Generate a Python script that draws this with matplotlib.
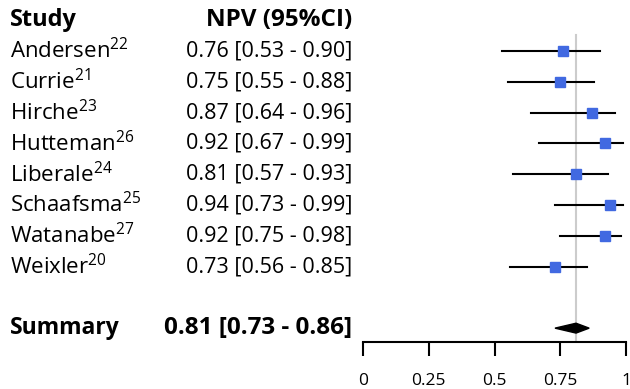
import matplotlib.pyplot as plt
from matplotlib.patches import Polygon
from matplotlib.transforms import blended_transform_factory

plt.rcParams['font.family'] = ['Open Sans', 'DejaVu Sans']

# study data
studies = ["Andersen", "Currie", "Hirche", "Hutteman", "Liberale",
           "Schaafsma", "Watanabe", "Weixler"]
refs = ["22", "21", "23", "26", "24", "25", "27", "20"]
npv = [0.76, 0.75, 0.87, 0.92, 0.81, 0.94, 0.92, 0.73]
lower = [0.53, 0.55, 0.64, 0.67, 0.57, 0.73, 0.75, 0.56]
upper = [0.90, 0.88, 0.96, 0.99, 0.93, 0.99, 0.98, 0.85]

summary = 0.81
summary_lo = 0.73
summary_hi = 0.86

ticks = [0, 0.25, 0.5, 0.75, 1]
tick_labels = ["0", "0.25", "0.5", "0.75", "1"]

W, H = 630, 389
fig = plt.figure(figsize=(W / 100, H / 100), dpi=100)
ax = fig.add_axes([363 / W, 47 / H, 263 / W, 342 / H])
ax.set_xlim(0, 1)
ax.set_ylim(10.45, -0.66)

rows = list(range(1, len(studies) + 1))
sum_row = 10

# reference line at the pooled estimate
ax.plot([summary, summary], [0.48, 10.45], color="#cccccc", lw=1.5, zorder=1)

for r, m, lo, hi in zip(rows, npv, lower, upper):
    ax.plot([lo, hi], [r, r], color="black", lw=1.5, zorder=2)
    ax.plot(m, r, marker="s", ms=7.5, color="#4169e1", zorder=3)

diamond = Polygon([(summary_lo, sum_row), (summary, sum_row - 0.16),
                   (summary_hi, sum_row), (summary, sum_row + 0.16)],
                  closed=True, color="black", zorder=3)
ax.add_patch(diamond)

# axis styling
for s in ["top", "left", "right"]:
    ax.spines[s].set_visible(False)
ax.spines["bottom"].set_linewidth(1.5)
ax.set_yticks([])
ax.set_xticks(ticks)
ax.set_xticklabels(tick_labels, fontsize=12.5)
ax.tick_params(axis="x", length=10, width=1.5, pad=12)

# text columns
tr = blended_transform_factory(fig.transFigure, ax.transData)
fs = 15.5
fs_bold = 17.5
ax.text(10 / W, 0, "Study", transform=tr, fontsize=17, fontweight="bold",
        va="center", ha="left")
ax.text(352 / W, 0, "NPV (95%CI)", transform=tr, fontsize=fs_bold,
        fontweight="bold", va="center", ha="right")
for r, name, ref, m, lo, hi in zip(rows, studies, refs, npv, lower, upper):
    ax.text(10 / W, r, name + "$^{\\mathregular{" + ref + "}}$", transform=tr,
            fontsize=16, va="center", ha="left")
    ax.text(352 / W, r, f"{m:.2f} [{lo:.2f} - {hi:.2f}]", transform=tr,
            fontsize=fs, va="center", ha="right")
ax.text(10 / W, sum_row, "Summary", transform=tr, fontsize=16.5,
        fontweight="bold", va="center", ha="left")
ax.text(352 / W, sum_row,
        f"{summary:.2f} [{summary_lo:.2f} - {summary_hi:.2f}]",
        transform=tr, fontsize=fs_bold, fontweight="bold", va="center",
        ha="right")

fig.savefig("out.png", dpi=100)
